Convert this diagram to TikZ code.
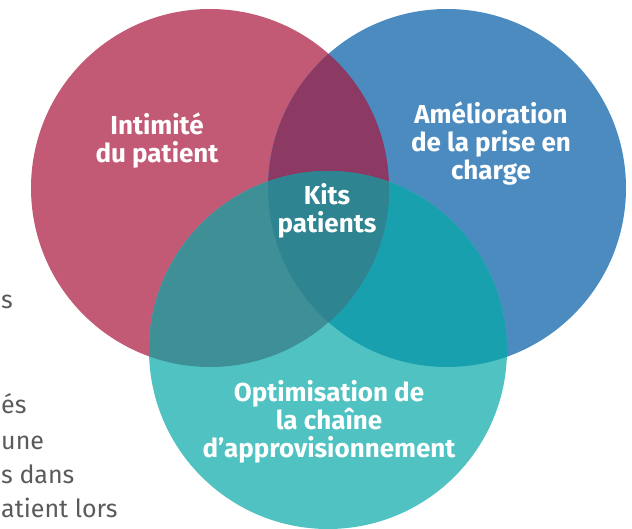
\documentclass[tikz,border=0pt]{standalone}
\usepackage{fontspec}
\newfontfamily\vennfont{Fira Sans}
\definecolor{intimred}{HTML}{C25A75}
\definecolor{priseblue}{HTML}{4C8BC0}
\definecolor{chaineteal}{HTML}{4FC2C1}
\definecolor{redblue}{HTML}{8C3963}
\definecolor{redteal}{HTML}{3E8F96}
\definecolor{blueteal}{HTML}{18A0AE}
\definecolor{kitscore}{HTML}{2E8490}
\definecolor{sidegray}{HTML}{5A5A5A}
\begin{document}
\begin{tikzpicture}[
                x=1pt, y=-1pt,
                every node/.style={inner sep=0pt},
                venn label/.style={text=white, align=center, anchor=base,
                    font=\vennfont\bfseries\fontsize{26}{28}\selectfont},
                side text/.style={text=sidegray, anchor=base west,
                    font=\vennfont\fontsize{25}{34}\selectfont},
            ]
            \useasboundingbox (0,0) rectangle (632,529);
            \clip (0,0) rectangle (632,529);
            \coordinate (intim) at (210,188);
            \coordinate (prise) at (447,188);
            \coordinate (chaine) at (328,350);
            \fill[intimred] (intim) circle (179pt);
            \fill[priseblue] (prise) circle (179pt);
            \fill[chaineteal] (chaine) circle (179pt);
            \begin{scope}
                \clip (prise) circle (179pt);
                \fill[blueteal] (chaine) circle (179pt);
            \end{scope}
            \begin{scope}
                \clip (intim) circle (179pt);
                \fill[redblue] (prise) circle (179pt);
                \fill[redteal] (chaine) circle (179pt);
                \clip (prise) circle (179pt);
                \fill[kitscore] (chaine) circle (179pt);
            \end{scope}
            \node[venn label] (intimite) at (157,163) {Intimité\\du patient};
            \node[venn label] (amelioration) at (491,180) {Amélioration\\de la prise en\\charge};
            \node[venn label] (kits) at (327,233) {Kits\\patients};
            \node[venn label] (optimisation) at (329,457) {Optimisation de\\la chaîne\\d’approvisionnement};
            \node[side text] (side1) at (1,309) {s};
            \node[side text] (side2) at (1,413) {és};
            \node[side text] (side3) at (1,449) {une};
            \node[side text] (side4) at (1,483) {s dans};
            \node[side text] (side5) at (1,517) {atient lors};
            \end{tikzpicture}
\end{document}
